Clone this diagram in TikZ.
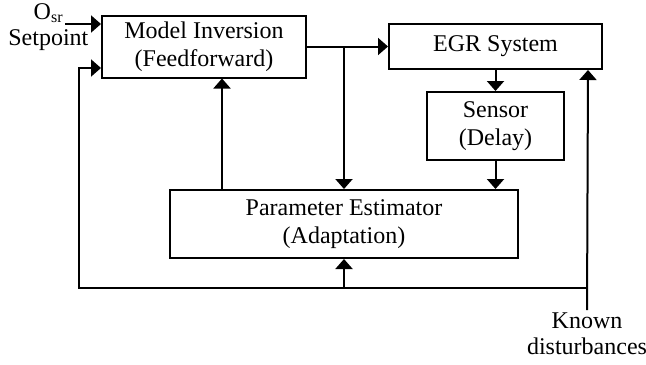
\documentclass[tikz,border=0pt]{standalone}
\usepackage{fontspec}
\setmainfont{Liberation Serif}
\usetikzlibrary{arrows.meta}

\begin{document}
\begin{tikzpicture}[x=0.5pt, y=-0.5pt, font=\fontsize{12}{14}\selectfont,
  block/.style={draw, line width=1pt, align=center, inner sep=0pt},
  arr/.style={-{Triangle[length=5pt,width=8.5pt]}, line width=1pt},
  wire/.style={line width=1pt}]
\useasboundingbox (0,0) rectangle (646,364);
% blocks
\node[block, minimum width=102pt, minimum height=31pt] (mi) at (204,46.5) {Model Inversion\\(Feedforward)};
\node[block, minimum width=106.5pt, minimum height=22.5pt] (egr) at (495.5,46.5) {EGR System};
\node[block, minimum width=68.5pt, minimum height=34pt] (sen) at (495.5,126) {Sensor\\(Delay)};
\node[block, minimum width=174pt, minimum height=34pt] (pe) at (344,224) {Parameter Estimator\\(Adaptation)};
% inputs
\node[anchor=base east, inner sep=0pt] (osr) at (64,19) {O\textsubscript{sr}};
\node[anchor=base west, inner sep=0pt] (sp) at (8,45) {Setpoint};
\coordinate (in) at (65,24);
\coordinate (kd) at (587,310);
\coordinate (bus) at (344,288);
\coordinate (lft) at (79,288);
\node[anchor=north, align=center, inner sep=1pt, font=\fontsize{12}{13}\selectfont] (kdtxt) at (kd) {Known\\disturbances};
% connectors
\draw[arr] (in) -- (in -| mi.west);
\draw[arr] (mi.east) -- (egr.west);
\draw[arr] (pe.north |- mi.east) -- (pe.north);
\draw[arr] (egr.south) -- (sen.north);
\draw[arr] (sen.south) -- (sen.south |- pe.north);
\draw[arr] ([xshift=26.5pt]pe.north west) -- ([xshift=26.5pt]pe.north west |- mi.south);
\draw[arr] (kd) -- ([xshift=-7.5pt]egr.south east);
\draw[arr] (kd |- bus) -- (lft) |- ([yshift=-10.75pt]mi.west);
\draw[arr] (bus) -- (pe.south);
\end{tikzpicture}
\end{document}
